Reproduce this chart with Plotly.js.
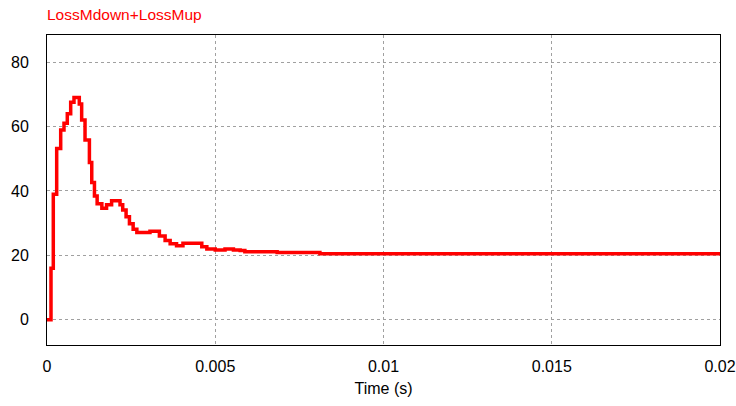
<!DOCTYPE html>
<html>
<head>
<meta charset="utf-8">
<script src="https://cdn.plot.ly/plotly-3.0.1.min.js"></script>
<style>html,body{margin:0;padding:0;background:#fff;}#chart{width:736px;height:406px;}</style>
</head>
<body>
<div id="chart"></div>
<script>
const seriesName = "LossMdown+LossMup";
const timeS = [0, 0.000119, 0.000187, 0.000288, 0.000407, 0.000505, 0.000603, 0.000704, 0.000802, 0.00096, 0.00103, 0.00113, 0.00126, 0.00133, 0.00141, 0.00149, 0.00163, 0.00177, 0.00192, 0.00217, 0.00225, 0.00235, 0.00245, 0.00256, 0.00267, 0.00306, 0.00334, 0.00351, 0.00366, 0.00385, 0.00404, 0.0046, 0.00475, 0.005, 0.00529, 0.00554, 0.00574, 0.00588, 0.00684, 0.00811, 0.02];
const loss  = [0, 16, 39, 53.2, 58.9, 61, 64, 67.5, 69, 67, 62, 55.8, 48.8, 42.6, 38.4, 36, 34.6, 35.7, 37, 35.7, 34.1, 32, 29.8, 28.1, 27.1, 27.5, 26, 24.6, 23.6, 23.0, 23.8, 22.7, 22.0, 21.7, 22.0, 21.7, 21.5, 21.1, 20.9, 20.5, 20.5];
const xTicks = [0, 0.005, 0.01, 0.015, 0.02];
const xTickText = ["0", "0.005", "0.01", "0.015", "0.02"];
const yTicks = [0, 20, 40, 60, 80];

const font = "Liberation Sans, Arial, sans-serif";
Plotly.newPlot("chart", [{
  x: timeS, y: loss, type: "scatter", mode: "lines",
  line: {color: "#ff0000", width: 3.5, shape: "hv"},
  name: seriesName, showlegend: false
}], {
  width: 736, height: 406,
  margin: {l: 47, r: 16, t: 35, b: 61},
  paper_bgcolor: "#fff", plot_bgcolor: "#fff",
  font: {family: font, size: 16, color: "#000"},
  title: {text: seriesName, font: {family: font, size: 15.5, color: "#ff0000"}, x: 0, xref: "paper", xanchor: "left", y: 0.963, yanchor: "middle"},
  xaxis: {
    range: [0, 0.02], tickvals: xTicks, ticktext: xTickText,
    showgrid: true, gridcolor: "#a0a0a0", griddash: "dot", gridwidth: 1,
    zeroline: false, showline: true, linecolor: "#000", linewidth: 1, mirror: true,
    ticks: "", ticklabelstandoff: 7,
    title: {text: "Time (s)", font: {family: font, size: 16, color: "#000"}, standoff: 8}
  },
  yaxis: {
    range: [-7.8, 88.4], tickvals: yTicks,
    showgrid: true, gridcolor: "#a0a0a0", griddash: "dot", gridwidth: 1,
    zeroline: false, showline: true, linecolor: "#000", linewidth: 1, mirror: true,
    ticks: "", ticklabelstandoff: 14
  }
}, {displayModeBar: false, staticPlot: true});
</script>
</body>
</html>
